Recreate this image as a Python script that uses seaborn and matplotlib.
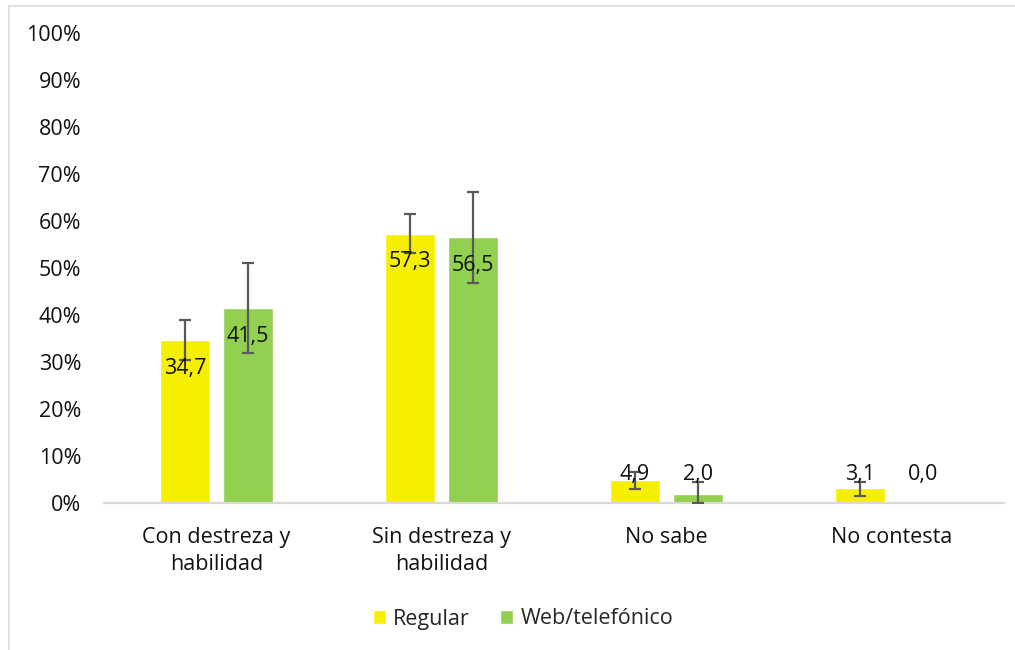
import numpy as np
import pandas as pd
import matplotlib
matplotlib.use("Agg")
import matplotlib.pyplot as plt
from matplotlib.lines import Line2D
import seaborn as sns

categories = ["Con destreza y\nhabilidad", "Sin destreza y\nhabilidad", "No sabe", "No contesta"]
series_names = ["Regular", "Web/telefónico"]
regular = [34.7, 57.3, 4.9, 3.1]
web = [41.5, 56.5, 2.0, 0.0]
regular_err_low = [4.2, 4.2, 2.0, 1.6]
regular_err_high = [4.2, 4.2, 1.8, 1.4]
web_err_low = [9.6, 9.7, 2.0, np.nan]
web_err_high = [9.6, 9.7, 2.5, np.nan]
y_ticks = [0, 10, 20, 30, 40, 50, 60, 70, 80, 90, 100]
y_tick_labels = [f"{t}%" for t in y_ticks]

colors = {"Regular": "#F7EF00", "Web/telefónico": "#92D050"}

df = pd.DataFrame({
    "cat": categories * 2,
    "serie": [series_names[0]] * 4 + [series_names[1]] * 4,
    "val": regular + web,
})

sns.set_theme(style="white")
plt.rcParams["font.family"] = ["Open Sans", "DejaVu Sans"]

FS = 15.5
fig = plt.figure(figsize=(10.15, 6.5), dpi=100)
ax = fig.add_axes([104 / 1015, 1 - 503 / 650, 900 / 1015, 470 / 650])

sns.barplot(data=df, x="cat", y="val", hue="serie", order=categories,
            hue_order=series_names, palette=colors, width=0.56, gap=0.22,
            saturation=1, errorbar=None, ax=ax, legend=True)

# error bars and data labels
bars_by_series = [ax.containers[0], ax.containers[1]]
vals_all = [regular, web]
lows = [regular_err_low, web_err_low]
highs = [regular_err_high, web_err_high]
for cont, vals, lo, hi in zip(bars_by_series, vals_all, lows, highs):
    for bar, v, l, h in zip(cont, vals, lo, hi):
        xc = bar.get_x() + bar.get_width() / 2
        if not np.isnan(l):
            ax.errorbar([xc], [v], yerr=[[l], [h]], fmt="none", ecolor="#595959",
                        elinewidth=1.6, capsize=4.5, capthick=1.6, zorder=4)
        ly = v - 6 if v > 12 else 6.0
        ax.text(xc, ly, f"{v:.1f}".replace(".", ","), ha="center", va="center",
                fontsize=FS, color="#111111", zorder=5)

ax.set_ylim(0, 100)
ax.set_xlim(-0.5, 3.5)
ax.set_yticks(y_ticks)
ax.set_yticklabels(y_tick_labels)
ax.set_xlabel("")
ax.set_ylabel("")
ax.tick_params(axis="y", length=0, pad=16.5, labelsize=FS, labelcolor="#111111")
ax.tick_params(axis="x", length=0, pad=17, labelsize=FS, labelcolor="#111111")
for lab in ax.get_xticklabels():
    lab.set_linespacing(1.4)
for s in ["top", "right", "left"]:
    ax.spines[s].set_visible(False)
ax.spines["bottom"].set_color("#D9D9D9")
ax.spines["bottom"].set_linewidth(1.6)
ax.grid(False)

handles, labels = ax.get_legend_handles_labels()
ax.legend(handles, labels, loc="center", bbox_to_anchor=(523 / 1015, 1 - 619 / 650),
          bbox_transform=fig.transFigure, ncol=2, frameon=False, fontsize=FS,
          handlelength=0.6, handleheight=0.6, handletextpad=0.35, columnspacing=1.4)

# outer chart border (left and top visible)
fig.add_artist(Line2D([8.5 / 1015, 8.5 / 1015], [0, 1 - 5.5 / 650], transform=fig.transFigure,
                      color="#D9D9D9", lw=1.2))
fig.add_artist(Line2D([8.5 / 1015, 1], [1 - 5.5 / 650, 1 - 5.5 / 650], transform=fig.transFigure,
                      color="#D9D9D9", lw=1.2))

fig.savefig("out.png", dpi=100)
